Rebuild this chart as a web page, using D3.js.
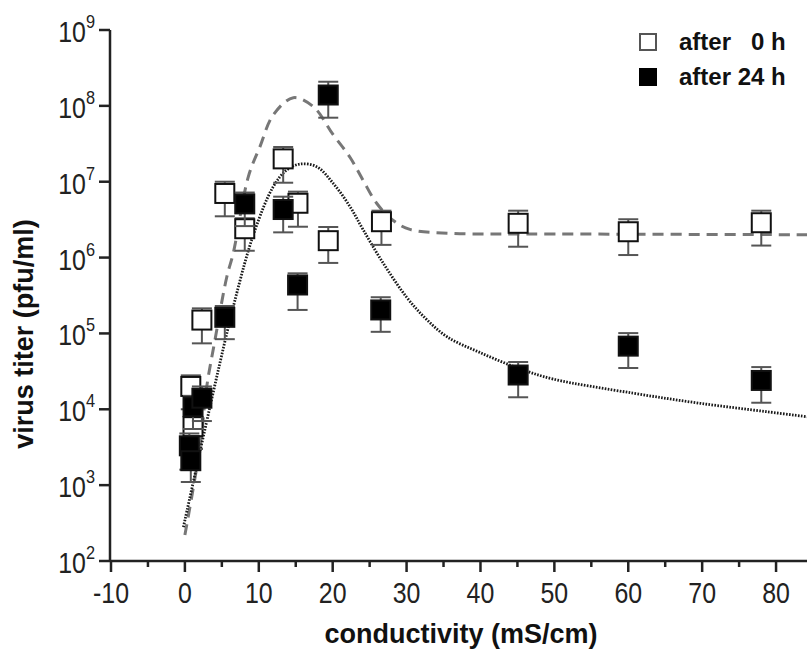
<!DOCTYPE html>
<html>
<head>
<meta charset="utf-8">
<script src="https://cdn.jsdelivr.net/npm/d3@7"></script>
<style>
  html, body { margin: 0; padding: 0; background: #fff; }
  svg text { font-family: "Liberation Sans", Arial, sans-serif; }
</style>
</head>
<body>
<div id="chart"></div>
<script>
// ---- data ----
// after 0 h (open squares): conductivity, titer, lower / upper error
var open_x     = [0.8, 1.1, 2.3, 5.4, 8.1, 13.3, 15.3, 19.4, 26.6, 45.1, 60.0, 78.0];
var open_y     = [2.0e4, 5.9e3, 1.5e5, 7.0e6, 2.4e6, 2.0e7, 5.2e6, 1.67e6, 2.97e6, 2.83e6, 2.19e6, 2.88e6];
var open_lo    = [1.0e4, 3.0e3, 7.4e4, 3.5e6, 1.23e6, 9.7e6, 2.55e6, 8.5e5, 1.47e6, 1.39e6, 1.08e6, 1.44e6];
var open_hi    = [2.8e4, 8.0e3, 2.14e5, 1.0e7, 3.3e6, 2.87e7, 7.4e6, 2.53e6, 4.15e6, 4.15e6, 3.2e6, 4.15e6];

// after 24 h (filled squares)
var fill_x     = [0.6, 0.8, 1.1, 2.3, 5.4, 8.1, 13.3, 15.25, 19.4, 26.5, 45.1, 60.0, 78.0];
var fill_y     = [3.3e3, 2.1e3, 1.08e4, 1.4e4, 1.63e5, 5.1e6, 4.3e6, 4.35e5, 1.39e8, 2.04e5, 2.83e4, 6.8e4, 2.4e4];
var fill_lo    = [1.6e3, 1.1e3, 5.5e3, 7.0e3, 8.4e4, 2.6e6, 2.15e6, 2.04e5, 6.98e7, 1.05e5, 1.44e4, 3.5e4, 1.22e4];
var fill_hi    = [4.8e3, 3.0e3, 1.5e4, 2.0e4, 2.3e5, 7.2e6, 6.35e6, 6.2e5, 2.08e8, 3.0e5, 4.2e4, 1.01e5, 3.6e4];

// fitted curves
var fit0_x = [0, 2.04, 2.95, 4.07, 5.66, 6.55, 8.58, 10.16, 11.96, 14.67, 17.37, 20.04, 22.34, 24.1, 25.95, 28.15, 30.45, 35.9, 50, 85];
var fit0_y = [2.2e2, 3.2e3, 1.97e4, 8.2e4, 5.5e5, 1.15e6, 1.16e7, 2.9e7, 7.6e7, 1.28e8, 9.8e7, 4.2e7, 2.1e7, 1.05e7, 5.2e6, 3.1e6, 2.35e6, 2.09e6, 2.05e6, 2.0e6];
var fit24_x = [-0.2, 6.55, 9.49, 11.96, 13.78, 15.58, 17.83, 20.08, 22.34, 24.14, 26.85, 30.01, 32.5, 35.5, 39.93, 45.07, 49.85, 60.68, 69.7, 78.7, 85];
var fit24_y = [2.8e2, 2.25e5, 2.31e6, 8.6e6, 1.43e7, 1.71e7, 1.58e7, 9.5e6, 4.7e6, 2.31e6, 8.4e5, 3.0e5, 1.6e5, 9.0e4, 5.6e4, 3.5e4, 2.5e4, 1.63e4, 1.2e4, 9.3e3, 7.8e3];

var x_ticks = [-10, 0, 10, 20, 30, 40, 50, 60, 70, 80];
var y_ticks = [2, 3, 4, 5, 6, 7, 8, 9];   // powers of ten
var legend_labels = ["after\u00a0\u20070 h", "after 24 h"];

// ---- chart ----
var W = 807, H = 657;
var svg = d3.select('#chart').append('svg')
  .attr('width', W).attr('height', H);

var x = d3.scaleLinear().domain([-10, 85]).range([111, 813]);
var y = d3.scaleLog().domain([1e2, 1e9]).range([561, 30]);

var axisColor = '#222';

// fitted lines
var line = d3.line()
  .x(function(d) { return x(d[0]); })
  .y(function(d) { return y(d[1]); })
  .curve(d3.curveCatmullRom.alpha(0.5));

svg.append('path')
  .datum(d3.zip(fit0_x, fit0_y))
  .attr('d', line)
  .attr('fill', 'none')
  .attr('stroke', '#777')
  .attr('stroke-width', 3)
  .attr('stroke-dasharray', '11,7');

svg.append('path')
  .datum(d3.zip(fit24_x, fit24_y))
  .attr('d', line)
  .attr('fill', 'none')
  .attr('stroke', '#1a1a1a')
  .attr('stroke-width', 2.8)
  .attr('stroke-dasharray', '1.6,1.4');

// points with error bars
var S = 19, CAP = 10;
function drawSeries(xs, ys, lo, hi, fill) {
  var data = xs.map(function(d, i) { return {x: d, y: ys[i], lo: lo[i], hi: hi[i]}; });
  var g = svg.append('g');
  var eb = g.selectAll('g.eb').data(data).enter().append('g')
    .attr('stroke', '#555').attr('stroke-width', 2);
  eb.append('line')
    .attr('x1', function(d) { return x(d.x); }).attr('x2', function(d) { return x(d.x); })
    .attr('y1', function(d) { return y(d.lo); }).attr('y2', function(d) { return y(d.hi); });
  eb.append('line')
    .attr('x1', function(d) { return x(d.x) - CAP; }).attr('x2', function(d) { return x(d.x) + CAP; })
    .attr('y1', function(d) { return y(d.lo); }).attr('y2', function(d) { return y(d.lo); });
  eb.append('line')
    .attr('x1', function(d) { return x(d.x) - CAP; }).attr('x2', function(d) { return x(d.x) + CAP; })
    .attr('y1', function(d) { return y(d.hi); }).attr('y2', function(d) { return y(d.hi); });
  g.selectAll('rect').data(data).enter().append('rect')
    .attr('x', function(d) { return x(d.x) - S / 2; })
    .attr('y', function(d) { return y(d.y) - S / 2; })
    .attr('width', S).attr('height', S)
    .attr('fill', fill)
    .attr('stroke', '#111').attr('stroke-width', 2);
}
drawSeries(open_x, open_y, open_lo, open_hi, '#fff');
drawSeries(fill_x, fill_y, fill_lo, fill_hi, '#000');

// axes
var xAxis = svg.append('g').attr('transform', 'translate(0,561)');
xAxis.append('line').attr('x1', x(-10)).attr('x2', W).attr('stroke', axisColor).attr('stroke-width', 2.5);
var minor = d3.range(-5, 85, 10);
xAxis.selectAll('line.minor').data(minor).enter().append('line')
  .attr('x1', function(d) { return x(d); }).attr('x2', function(d) { return x(d); })
  .attr('y1', 0).attr('y2', 6).attr('stroke', axisColor).attr('stroke-width', 2.5);
xAxis.selectAll('line.major').data(x_ticks).enter().append('line')
  .attr('x1', function(d) { return x(d); }).attr('x2', function(d) { return x(d); })
  .attr('y1', 0).attr('y2', 11).attr('stroke', axisColor).attr('stroke-width', 2.5);
xAxis.selectAll('text').data(x_ticks).enter().append('text')
  .attr('transform', function(d) { return 'translate(' + x(d) + ',42) scale(0.86,1)'; })
  .attr('text-anchor', 'middle')
  .attr('font-size', 29).attr('fill', '#222')
  .text(function(d) { return d; });

var yAxis = svg.append('g').attr('transform', 'translate(110,0)');
yAxis.append('line').attr('y1', 30).attr('y2', 562).attr('stroke', axisColor).attr('stroke-width', 2.5);
yAxis.selectAll('line.tick').data(y_ticks).enter().append('line')
  .attr('x1', -11).attr('x2', 0)
  .attr('y1', function(d) { return y(Math.pow(10, d)); })
  .attr('y2', function(d) { return y(Math.pow(10, d)); })
  .attr('stroke', axisColor).attr('stroke-width', 2.5);
var yl = yAxis.selectAll('text').data(y_ticks).enter().append('text')
  .attr('transform', function(d) { return 'translate(-15,' + (y(Math.pow(10, d)) + 12) + ') scale(0.86,1)'; })
  .attr('text-anchor', 'end')
  .attr('font-size', 29).attr('fill', '#222');
yl.append('tspan').text('10');
yl.append('tspan').attr('dy', -14).attr('font-size', 19).text(function(d) { return d; });

// axis titles
svg.append('text')
  .attr('x', 461).attr('y', 643)
  .attr('text-anchor', 'middle')
  .attr('font-size', 27).attr('font-weight', 'bold').attr('fill', '#111')
  .text('conductivity (mS/cm)');

svg.append('text')
  .attr('transform', 'translate(33,334) rotate(-90)')
  .attr('text-anchor', 'middle')
  .attr('font-size', 27).attr('font-weight', 'bold').attr('fill', '#111')
  .text('virus titer (pfu/ml)');

// legend
var legend = svg.append('g');
var lg = legend.selectAll('g').data(legend_labels).enter().append('g')
  .attr('transform', function(d, i) { return 'translate(640,' + (34 + i * 35) + ')'; });
lg.append('rect')
  .attr('width', 16).attr('height', 16)
  .attr('fill', function(d, i) { return i === 0 ? '#fff' : '#000'; })
  .attr('stroke', function(d, i) { return i === 0 ? '#555' : '#000'; })
  .attr('stroke-width', 2);
lg.append('text')
  .attr('x', 39).attr('y', 16)
  .attr('font-size', 24).attr('font-weight', 'bold').attr('fill', '#111')
  .style('white-space', 'pre')
  .text(function(d) { return d; });
</script>
</body>
</html>
